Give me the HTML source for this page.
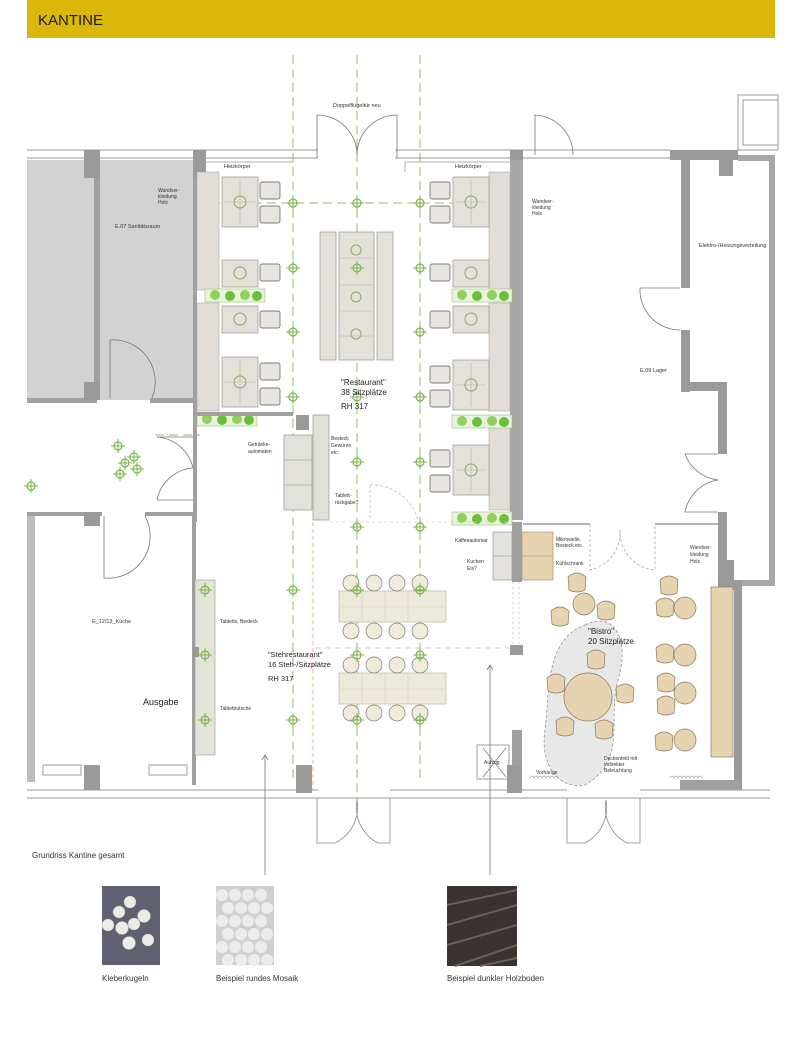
<!DOCTYPE html>
<html><head><meta charset="utf-8"><style>
html,body{margin:0;padding:0;background:#fff;width:800px;height:1053px;overflow:hidden}
svg{display:block}
text{font-family:"Liberation Sans",sans-serif;fill:#333}
</style></head><body>
<svg width="800" height="1053" viewBox="0 0 800 1053" xmlns="http://www.w3.org/2000/svg">
<defs>
<g id="mk"><circle r="4" fill="none" stroke="#7ab648" stroke-width="1.2"/><path d="M-7 0H7M0-7V7" stroke="#7ab648" stroke-width="1"/></g>
<g id="tbl"><rect x="0" y="0" width="36" height="50" fill="#e4e0da" stroke="#9a958d" stroke-width=".7"/><path d="M18 3V47M3 25H33" stroke="#b8b2a8" stroke-width=".6"/><circle cx="18" cy="25" r="6" fill="none" stroke="#8aa760"/></g>
<g id="tbls"><rect x="0" y="0" width="36" height="27" fill="#e4e0da" stroke="#9a958d" stroke-width=".7"/><circle cx="18" cy="13" r="6" fill="none" stroke="#8aa760"/></g>
<g id="ch"><rect x="0" y="0" width="20" height="17" rx="2" fill="#e8e5e0" stroke="#555" stroke-width=".7"/></g>
<g id="pl"><rect x="0" y="0" width="60" height="13" fill="#eaf3df" stroke="#9ac46c" stroke-width=".6"/><circle cx="10" cy="6" r="5" fill="#8fd15a"/><circle cx="25" cy="7" r="5" fill="#6cbf3a"/><circle cx="40" cy="6" r="5" fill="#8fd15a"/><circle cx="52" cy="7" r="5" fill="#6cbf3a"/></g>
<g id="st"><circle r="8" fill="#f0ecdc" stroke="#777" stroke-width=".7"/></g>
<g id="bc"><circle r="11" fill="#e6d3b0" stroke="#8a7a5c" stroke-width=".7"/></g>
<g id="bch"><path d="M-9 -6 Q0 -14 9 -6 L8 7 Q0 11 -8 7Z" fill="#e6d3b0" stroke="#8a7a5c" stroke-width=".7"/></g>
</defs>

<rect x="27" y="0" width="748" height="38" fill="#d9b70c"/>
<text x="38" y="25" font-size="15" textLength="65" lengthAdjust="spacingAndGlyphs" style="fill:#1a1a1a">KANTINE</text>

<g stroke="#8cc063" stroke-width="1" stroke-dasharray="9 5">
<path d="M293 55V780M357 55V800M420 55V780"/>
<path d="M155 203H510M155 435H200"/>
</g>

<rect x="27" y="160" width="168" height="240" fill="#d2d2d2"/>
<rect x="94" y="160" width="6" height="240" fill="#a0a0a0"/>
<rect x="27" y="398" width="70" height="5" fill="#a0a0a0"/><rect x="150" y="398" width="45" height="5" fill="#a0a0a0"/>
<rect x="84" y="150" width="16" height="28" fill="#9a9a9a"/><rect x="84" y="382" width="16" height="18" fill="#9a9a9a"/>
<path d="M110 340 A42 42 0 0 1 152 398" fill="none" stroke="#777" stroke-width=".8"/><path d="M110 340V398" stroke="#777" stroke-width=".8"/>
<rect x="193" y="160" width="4" height="362" fill="#a0a0a0"/>
<text x="115" y="228" font-size="5.5">E.07 Sanitätsraum</text>
<text x="158" y="192" font-size="5">Wandver-</text><text x="158" y="198" font-size="5">kleidung</text><text x="158" y="204" font-size="5">Holz</text>

<use href="#mk" x="118" y="446"/><use href="#mk" x="134" y="457"/><use href="#mk" x="125" y="463"/><use href="#mk" x="137" y="469"/><use href="#mk" x="120" y="474"/><use href="#mk" x="31" y="486"/>
<path d="M157 437 A40 40 0 0 1 193 468 A40 40 0 0 0 157 500" fill="none" stroke="#777" stroke-width=".8"/>
<path d="M157 437H193M157 500H193" stroke="#777" stroke-width=".8"/>

<rect x="27" y="512" width="8" height="270" fill="#bdbdbd"/>
<rect x="27" y="512" width="75" height="4" fill="#a0a0a0"/><rect x="145" y="512" width="50" height="4" fill="#a0a0a0"/>
<rect x="84" y="512" width="16" height="14" fill="#9a9a9a"/>
<path d="M104 516V578 A42 42 0 0 0 145 516" fill="none" stroke="#777" stroke-width=".8"/>
<rect x="192" y="515" width="4" height="270" fill="#a0a0a0"/>
<rect x="43" y="765" width="38" height="10" fill="none" stroke="#888" stroke-width=".8"/><rect x="149" y="765" width="38" height="10" fill="none" stroke="#888" stroke-width=".8"/>
<text x="92" y="623" font-size="5.5">E_12/13_Küche</text>
<text x="143" y="705" font-size="9" style="fill:#222">Ausgabe</text>

<path d="M27 150H318M395 150H670M27 158H318M395 158H670" stroke="#999" stroke-width="1"/>
<path d="M197 162H293M405 162H510" stroke="#999" stroke-width=".8"/>
<path d="M197 162V175M405 162V172" stroke="#999" stroke-width=".8"/>
<rect x="193" y="150" width="13" height="28" fill="#9a9a9a"/><rect x="510" y="150" width="13" height="28" fill="#9a9a9a"/>
<path d="M317 158V115 A40 40 0 0 1 357 155 A40 40 0 0 1 397 115V158" fill="none" stroke="#777" stroke-width=".8"/>
<path d="M535 155V115 A40 40 0 0 1 573 155" fill="none" stroke="#777" stroke-width=".8"/>
<text x="333" y="107" font-size="5.5">Doppelflügeltür neu</text>
<text x="224" y="168" font-size="5.5">Heizkörper</text><text x="455" y="168" font-size="5.5">Heizkörper</text>

<rect x="670" y="150" width="68" height="10" fill="#9a9a9a"/>
<rect x="738" y="95" width="40" height="55" fill="none" stroke="#999"/>
<rect x="743" y="100" width="35" height="45" fill="none" stroke="#999"/>
<rect x="738" y="155" width="37" height="6" fill="#a8a8a8"/>
<rect x="769" y="155" width="6" height="428" fill="#a8a8a8"/>
<rect x="681" y="160" width="9" height="128" fill="#9a9a9a"/>
<rect x="719" y="160" width="14" height="16" fill="#9a9a9a"/>
<path d="M680 288 H640 A40 40 0 0 0 680 330" fill="none" stroke="#777" stroke-width=".8"/>
<rect x="681" y="330" width="9" height="62" fill="#9a9a9a"/>
<rect x="681" y="382" width="45" height="9" fill="#9a9a9a"/>
<rect x="718" y="382" width="9" height="72" fill="#9a9a9a"/>
<path d="M718 454 H685 A40 40 0 0 0 718 480 A40 40 0 0 0 685 512 H718" fill="none" stroke="#777" stroke-width=".8"/>
<rect x="718" y="512" width="9" height="80" fill="#9a9a9a"/>
<rect x="510" y="160" width="13" height="360" fill="#a8a8a8"/>
<text x="532" y="203" font-size="5">Wandver-</text><text x="532" y="209" font-size="5">kleidung</text><text x="532" y="215" font-size="5">Holz</text>
<text x="699" y="247" font-size="5.5">Elektro-/Heizungsverteilung</text>
<text x="640" y="372" font-size="5.5">E.09 Lager</text>

<rect x="197" y="172" width="22" height="118" fill="#e2ddd6" stroke="#aaa" stroke-width=".6"/>
<rect x="197" y="303" width="22" height="108" fill="#e2ddd6" stroke="#aaa" stroke-width=".6"/>
<rect x="489" y="172" width="21" height="118" fill="#e2ddd6" stroke="#aaa" stroke-width=".6"/>
<rect x="489" y="303" width="21" height="108" fill="#e2ddd6" stroke="#aaa" stroke-width=".6"/>
<rect x="489" y="425" width="21" height="85" fill="#e2ddd6" stroke="#aaa" stroke-width=".6"/>
<use href="#tbl" x="222" y="177"/><use href="#tbls" x="222" y="260"/><use href="#tbls" x="222" y="306"/><use href="#tbl" x="222" y="357"/>
<use href="#ch" x="260" y="182"/><use href="#ch" x="260" y="206"/><use href="#ch" x="260" y="264"/><use href="#ch" x="260" y="311"/><use href="#ch" x="260" y="363"/><use href="#ch" x="260" y="388"/>
<use href="#tbl" x="453" y="177"/><use href="#tbls" x="453" y="260"/><use href="#tbls" x="453" y="306"/><use href="#tbl" x="453" y="360"/><use href="#tbl" x="453" y="445"/>
<use href="#ch" x="430" y="182"/><use href="#ch" x="430" y="206"/><use href="#ch" x="430" y="264"/><use href="#ch" x="430" y="311"/><use href="#ch" x="430" y="366"/><use href="#ch" x="430" y="390"/><use href="#ch" x="430" y="450"/><use href="#ch" x="430" y="475"/>
<use href="#pl" x="205" y="289"/><use href="#pl" x="197" y="413"/><use href="#pl" x="452" y="289"/><use href="#pl" x="452" y="415"/><use href="#pl" x="452" y="512"/>
<rect x="193" y="412" width="100" height="4" fill="#a0a0a0"/>
<rect x="296" y="415" width="13" height="15" fill="#9a9a9a"/>
<rect x="320" y="232" width="16" height="128" fill="#e4e0da" stroke="#9a958d" stroke-width=".7"/>
<rect x="339" y="232" width="35" height="128" fill="#e4e0da" stroke="#9a958d" stroke-width=".7"/>
<rect x="377" y="232" width="16" height="128" fill="#e4e0da" stroke="#9a958d" stroke-width=".7"/>
<path d="M339 258H374M339 285H374M339 311H374M339 336H374" stroke="#b8b2a8" stroke-width=".6"/>
<circle cx="356" cy="250" r="5" fill="none" stroke="#8aa760"/><circle cx="356" cy="297" r="5" fill="none" stroke="#8aa760"/><circle cx="356" cy="334" r="5" fill="none" stroke="#8aa760"/>
<g>
<use href="#mk" x="293" y="203"/><use href="#mk" x="357" y="203"/><use href="#mk" x="420" y="203"/>
<use href="#mk" x="293" y="268"/><use href="#mk" x="357" y="268"/><use href="#mk" x="420" y="268"/>
<use href="#mk" x="293" y="332"/><use href="#mk" x="420" y="332"/>
<use href="#mk" x="293" y="397"/><use href="#mk" x="357" y="397"/><use href="#mk" x="420" y="397"/>
<use href="#mk" x="357" y="462"/><use href="#mk" x="420" y="462"/>
<use href="#mk" x="357" y="527"/><use href="#mk" x="420" y="527"/>
</g>
<text x="341" y="385" font-size="8" style="fill:#222">"Restaurant"</text>
<text x="341" y="395" font-size="8" style="fill:#222">38 Sitzplätze</text>
<text x="341" y="409" font-size="8" style="fill:#222">RH 317</text>
<rect x="284" y="435" width="28" height="75" fill="#e2e2da" stroke="#888" stroke-width=".6"/>
<path d="M284 460H312M284 485H312" stroke="#888" stroke-width=".6"/>
<rect x="313" y="415" width="16" height="105" fill="#e0e0d8" stroke="#888" stroke-width=".6"/>
<text x="248" y="446" font-size="5">Getränke-</text><text x="248" y="453" font-size="5">automaten</text>
<text x="331" y="440" font-size="5">Besteck</text><text x="331" y="447" font-size="5">Gewürze</text><text x="331" y="454" font-size="5">etc.</text>
<text x="335" y="497" font-size="5">Tablett-</text><text x="335" y="504" font-size="5">rückgabe?</text>
<path d="M370 485V520M370 485 A48 48 0 0 1 418 520" fill="none" stroke="#bbb" stroke-dasharray="3 2" stroke-width=".8"/>
<path d="M330 522H510" stroke="#ccc" stroke-dasharray="3 3" stroke-width=".8"/>

<path d="M313 522V790" stroke="#f0a070" stroke-width=".8" stroke-dasharray="4 3"/>
<path d="M315 648H510" stroke="#bbb" stroke-width=".8" stroke-dasharray="6 4"/>
<rect x="195" y="580" width="20" height="175" fill="#e2e4d8" stroke="#999" stroke-width=".6"/>
<rect x="193" y="647" width="6" height="10" fill="#999"/>
<use href="#mk" x="205" y="590"/><use href="#mk" x="205" y="655"/><use href="#mk" x="205" y="720"/>
<use href="#mk" x="293" y="590"/><use href="#mk" x="293" y="720"/>
<text x="220" y="623" font-size="5">Tabletts, Besteck</text>
<text x="220" y="710" font-size="5">Tablettrutsche</text>
<text x="268" y="657" font-size="7.5" style="fill:#222">"Stehrestaurant"</text>
<text x="268" y="667" font-size="7.5" style="fill:#222">16 Steh-/Sitzplätze</text>
<text x="268" y="681" font-size="7.5" style="fill:#222">RH 317</text>
<rect x="339" y="591" width="107" height="31" fill="#eeeadb" stroke="#bcb69e" stroke-width=".7"/>
<rect x="339" y="673" width="107" height="31" fill="#eeeadb" stroke="#bcb69e" stroke-width=".7"/>
<path d="M339 607H446M362 591V622M385 591V622M408 591V622M339 689H446M362 673V704M385 673V704M408 673V704" stroke="#d4cfba" stroke-width=".6"/>
<g>
<use href="#st" x="351" y="583"/><use href="#st" x="374" y="583"/><use href="#st" x="397" y="583"/><use href="#st" x="420" y="583"/>
<use href="#st" x="351" y="631"/><use href="#st" x="374" y="631"/><use href="#st" x="397" y="631"/><use href="#st" x="420" y="631"/>
<use href="#st" x="351" y="665"/><use href="#st" x="374" y="665"/><use href="#st" x="397" y="665"/><use href="#st" x="420" y="665"/>
<use href="#st" x="351" y="713"/><use href="#st" x="374" y="713"/><use href="#st" x="397" y="713"/><use href="#st" x="420" y="713"/>
</g>
<use href="#mk" x="357" y="590"/><use href="#mk" x="420" y="590"/><use href="#mk" x="357" y="655"/><use href="#mk" x="420" y="655"/><use href="#mk" x="357" y="720"/><use href="#mk" x="420" y="720"/>
<rect x="493" y="532" width="19" height="48" fill="#e3e3db" stroke="#888" stroke-width=".6"/><path d="M493 556H512" stroke="#888" stroke-width=".6"/>
<rect x="522" y="532" width="31" height="48" fill="#e6d3b0" stroke="#998a6a" stroke-width=".6"/><path d="M522 556H553" stroke="#998a6a" stroke-width=".6"/>
<rect x="512" y="522" width="10" height="60" fill="#a0a0a0"/>
<rect x="510" y="645" width="13" height="10" fill="#999"/>
<rect x="512" y="730" width="10" height="60" fill="#a0a0a0"/>
<path d="M513 582V645M519 582V645" stroke="#ccc" stroke-dasharray="2 3"/>
<text x="455" y="542" font-size="5">Kaffeeautomat</text>
<text x="467" y="563" font-size="5">Kuchen</text><text x="467" y="570" font-size="5">Eis?</text>
<text x="556" y="541" font-size="5">Mikrowelle,</text><text x="556" y="547" font-size="5">Besteck etc.</text>
<text x="556" y="565" font-size="5">Kühlschrank</text>
<rect x="477" y="745" width="32" height="34" fill="none" stroke="#888" stroke-width=".8"/>
<path d="M483 748L506 777M506 748L483 777" stroke="#777" stroke-width=".7"/>
<text x="484" y="764" font-size="5">Aufzug</text>

<path d="M523 524H590M655 524H718" stroke="#999" stroke-width="1.5"/>
<path d="M590 524V570 A38 38 0 0 0 620 530 A38 38 0 0 0 655 570V524" fill="none" stroke="#aaa" stroke-dasharray="3 2" stroke-width=".8"/>
<rect x="718" y="560" width="16" height="30" fill="#9a9a9a"/>
<rect x="735" y="580" width="40" height="6" fill="#a8a8a8"/>
<rect x="734" y="580" width="8" height="210" fill="#9a9a9a"/>
<text x="690" y="549" font-size="5">Wandver-</text><text x="690" y="556" font-size="5">kleidung</text><text x="690" y="563" font-size="5">Holz</text>
<path d="M585 625 C615 610 630 640 618 680 C607 720 628 760 585 785 C555 790 540 760 545 730 C550 690 545 640 585 625Z" fill="#e8e8e8" stroke="#888" stroke-width=".7" stroke-dasharray="3 2"/>
<circle cx="588" cy="697" r="24" fill="#e6d3b0" stroke="#8a7a5c" stroke-width=".7"/>
<use href="#bch" x="596" y="660"/><use href="#bch" x="556" y="684"/><use href="#bch" x="625" y="694"/><use href="#bch" x="565" y="727"/><use href="#bch" x="604" y="730"/>
<use href="#bc" x="584" y="604"/><use href="#bch" x="577" y="583"/><use href="#bch" x="560" y="617"/><use href="#bch" x="606" y="611"/>
<use href="#bc" x="685" y="608"/><use href="#bc" x="685" y="655"/><use href="#bc" x="685" y="693"/><use href="#bc" x="685" y="740"/>
<use href="#bch" x="665" y="608"/><use href="#bch" x="669" y="586"/><use href="#bch" x="665" y="654"/><use href="#bch" x="666" y="683"/><use href="#bch" x="666" y="706"/><use href="#bch" x="664" y="742"/>
<rect x="711" y="587" width="22" height="170" fill="#e6d3b0" stroke="#8a7a5c" stroke-width=".7"/>
<text x="588" y="634" font-size="8" style="fill:#222">"Bistro"</text>
<text x="588" y="644" font-size="8" style="fill:#222">20 Sitzplätze</text>
<text x="604" y="760" font-size="5">Deckenfeld mit</text><text x="604" y="766" font-size="5">indirekter</text><text x="604" y="772" font-size="5">Beleuchtung</text>
<text x="536" y="774" font-size="5">Vorhänge</text>
<path d="M530 778q2-4 4 0q2-4 4 0q2-4 4 0q2-4 4 0q2-4 4 0q2-4 4 0q2-4 4 0M670 778q2-4 4 0q2-4 4 0q2-4 4 0q2-4 4 0q2-4 4 0q2-4 4 0q2-4 4 0q2-4 4 0" fill="none" stroke="#888" stroke-width=".6"/>

<path d="M27 790H318M390 790H567M640 790H770M27 798H770" stroke="#999" stroke-width="1"/>
<rect x="84" y="765" width="16" height="25" fill="#9a9a9a"/><rect x="296" y="765" width="16" height="28" fill="#9a9a9a"/><rect x="507" y="765" width="15" height="28" fill="#9a9a9a"/>
<rect x="680" y="780" width="60" height="10" fill="#a0a0a0"/>
<path d="M317 798V843H335 A40 40 0 0 0 357 800 A40 40 0 0 0 378 843H390V798" fill="none" stroke="#888" stroke-width=".8"/>
<path d="M567 798V843H585 A40 40 0 0 0 606 800 A40 40 0 0 0 627 843H640V798" fill="none" stroke="#888" stroke-width=".8"/>
<path d="M265 755V875M490 665V875M262 760L265 755L268 760M487 670L490 665L493 670" fill="none" stroke="#777" stroke-width=".8"/>

<text x="32" y="858" font-size="8">Grundriss Kantine gesamt</text>
<rect x="102" y="886" width="58" height="79" fill="#5f6170"/>
<g fill="#ecece4" stroke="#bbb" stroke-width=".5">
<circle cx="130" cy="902" r="6"/><circle cx="119" cy="912" r="6"/><circle cx="144" cy="916" r="6.5"/><circle cx="108" cy="925" r="6"/><circle cx="122" cy="928" r="6.5"/><circle cx="134" cy="924" r="6"/><circle cx="129" cy="943" r="6.5"/><circle cx="148" cy="940" r="6"/>
</g>
<rect x="216" y="886" width="58" height="79" fill="#d0d0d0"/>
<g fill="#ececec">
<circle cx="222" cy="895" r="6"/><circle cx="235" cy="895" r="6"/><circle cx="248" cy="895" r="6"/><circle cx="261" cy="895" r="6"/>
<circle cx="228" cy="908" r="6"/><circle cx="241" cy="908" r="6"/><circle cx="254" cy="908" r="6"/><circle cx="267" cy="908" r="6"/>
<circle cx="222" cy="921" r="6"/><circle cx="235" cy="921" r="6"/><circle cx="248" cy="921" r="6"/><circle cx="261" cy="921" r="6"/>
<circle cx="228" cy="934" r="6"/><circle cx="241" cy="934" r="6"/><circle cx="254" cy="934" r="6"/><circle cx="267" cy="934" r="6"/>
<circle cx="222" cy="947" r="6"/><circle cx="235" cy="947" r="6"/><circle cx="248" cy="947" r="6"/><circle cx="261" cy="947" r="6"/>
<circle cx="228" cy="960" r="6"/><circle cx="241" cy="960" r="6"/><circle cx="254" cy="960" r="6"/><circle cx="267" cy="960" r="6"/>
</g>
<rect x="447" y="886" width="70" height="80" fill="#3a3230"/>
<path d="M447 905L517 890M447 925L517 905M447 945L517 925M455 966L517 945M480 966L517 958" stroke="#6a5e58" stroke-width="2"/>
<text x="102" y="981" font-size="8">Kleberkugeln</text>
<text x="216" y="981" font-size="8">Beispiel rundes Mosaik</text>
<text x="447" y="981" font-size="8">Beispiel dunkler Holzboden</text>
</svg>
</body></html>
